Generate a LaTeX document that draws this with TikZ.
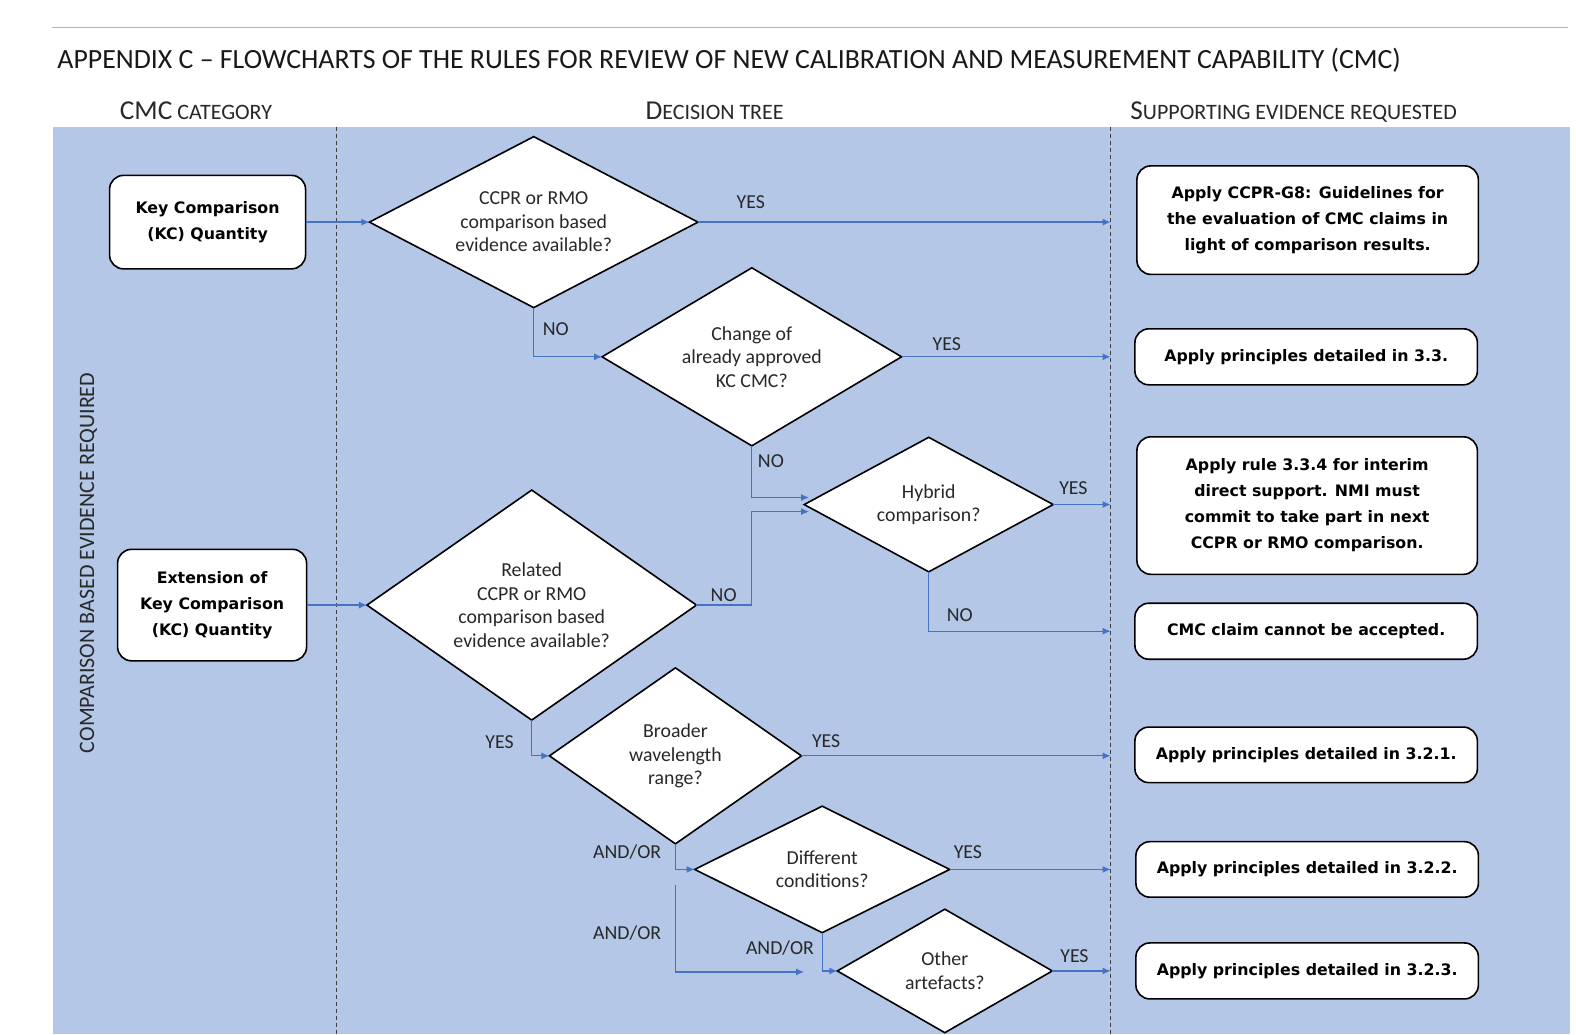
\documentclass[tikz,border=0pt]{standalone}
\usepackage{fontspec}
\setmainfont{Carlito}
\newfontfamily\boxfont{DejaVu Sans}
\usetikzlibrary{shapes.geometric,arrows.meta}
\definecolor{bgblue}{RGB}{180,199,231}
\definecolor{arrblue}{RGB}{68,114,196}
\definecolor{txt}{RGB}{40,40,40}
\newcommand{\fsc}[2]{{\fontsize{27.3}{31}\selectfont #1}{\fontsize{22}{26}\selectfont #2}}
\begin{document}
\begin{tikzpicture}[x=1.0051pt,y=-1.0051pt,
  box/.style={draw=black, line width=1.6pt, fill=white, rounded corners=14pt, align=center,
    font=\boxfont\bfseries\fontsize{15.8}{26}\selectfont, inner sep=0pt},
  dia/.style={draw=black, line width=1.6pt, fill=white, diamond, inner sep=0pt, outer sep=0pt,
    align=center, font=\fontsize{19.8}{23.5}\selectfont, text=txt},
  conn/.style={draw=arrblue, line width=1.3pt, -{Latex[length=8pt,width=7pt]}},
  lbl/.style={font=\fontsize{19.8}{23.5}\selectfont, text=txt, inner sep=0pt},
  lane/.style={draw=black!75, line width=1pt, dash pattern=on 4pt off 3pt},
  ]
\useasboundingbox (0,0) rectangle (1568,1028.75);
\fill[white] (0,0) rectangle (1568,1028.75);
% top rule and background
\draw[black!30, line width=1.2pt] (52,27) -- (1560,27);
\fill[bgblue] (53,126) rectangle (1562,1028.75);
% title and headers
\node[anchor=base west, inner sep=0pt, text=black!90, font=\fontsize{27.8}{32}\selectfont] (title) at (57,68)
  {APPENDIX C -- FLOWCHARTS OF THE RULES FOR REVIEW OF NEW CALIBRATION AND MEASUREMENT CAPABILITY (CMC)};
\node[anchor=base, inner sep=0pt, text=txt] (h1) at (195,119) {\fsc{CMC}{ CATEGORY}};
\node[anchor=base, inner sep=0pt, text=txt] (h2) at (711,119) {\fsc{D}{ECISION TREE}};
\node[anchor=base, inner sep=0pt, text=txt] (h3) at (1287,119) {\fsc{S}{UPPORTING EVIDENCE REQUESTED}};
% lane separators
\coordinate (l1t) at (335,126); \coordinate (l1b) at (335,1028.75);
\coordinate (l2t) at (1105,126); \coordinate (l2b) at (1105,1028.75);
\draw[lane] (l1t) -- (l1b);
\draw[lane] (l2t) -- (l2b);
\node[rotate=90, inner sep=0pt, text=txt, font=\fontsize{22}{25}\selectfont] (vt) at (88,560)
  {COMPARISON BASED EVIDENCE REQUIRED};
% left boxes
\node[box, minimum width=196pt, minimum height=93.5pt] (kc) at (206.5,221) {Key Comparison\\(KC) Quantity};
\node[box, minimum width=189pt, minimum height=111.5pt] (ext) at (211,602) {Extension of\\Key Comparison\\(KC) Quantity};
% diamonds
\node[dia, shape aspect=1.924, minimum width=328.5pt, minimum height=171pt] (d1) at (531,221) {CCPR or RMO\\comparison based\\evidence available?};
\node[dia, shape aspect=1.684, minimum width=299.5pt, minimum height=178pt] (d2) at (748,355) {Change of\\already approved\\KC CMC?};
\node[dia, shape aspect=1.851, minimum width=249pt, minimum height=134.5pt] (d3) at (924,502) {Hybrid\\comparison?};
\node[dia, shape aspect=1.432, minimum width=329.5pt, minimum height=230pt] (d4) at (529,602) {Related\\CCPR or RMO\\comparison based\\evidence available?};
\node[dia, shape aspect=1.434, minimum width=252pt, minimum height=176pt] (d5) at (672,752) {Broader\\wavelength\\range?};
\node[dia, shape aspect=2.016, minimum width=255pt, minimum height=126.5pt] (d6) at (818,865) {Different\\conditions?};
\node[dia, shape aspect=1.740, minimum width=215pt, minimum height=123.5pt] (d7) at (940,966) {Other\\artefacts?};
% right boxes
\node[box, minimum width=341.5pt, minimum height=108.5pt] (r1) at (1301,219) {Apply CCPR-G8: Guidelines for\\the evaluation of CMC claims in\\light of comparison results.};
\node[box, minimum width=342.5pt, minimum height=56pt] (r2) at (1299.5,355) {Apply principles detailed in 3.3.};
\node[box, minimum width=340.5pt, minimum height=137.5pt] (r3) at (1300.5,503) {Apply rule 3.3.4 for interim\\direct support. NMI must\\commit to take part in next\\CCPR or RMO comparison.};
\node[box, minimum width=342.5pt, minimum height=56pt] (r4) at (1299.5,628) {CMC claim cannot be accepted.};
\node[box, minimum width=342.5pt, minimum height=55.5pt] (r5) at (1299.5,751) {Apply principles detailed in 3.2.1.};
\node[box, minimum width=342.5pt, minimum height=55.5pt] (r6) at (1300.5,865) {Apply principles detailed in 3.2.2.};
\node[box, minimum width=342.5pt, minimum height=56pt] (r7) at (1300.5,966) {Apply principles detailed in 3.2.3.};
% connector end points on the lane line
\coordinate (t1) at (1105,221);
\coordinate (t2) at (1105,355);
\coordinate (t3) at (1105,502);
\coordinate (t4) at (1105,628);
\coordinate (t5) at (1105,752);
\coordinate (t6) at (1105,865);
\coordinate (t7) at (1105,966);
\coordinate (hin1) at (805,495);
\coordinate (hin2) at (805,509);
\coordinate (ao) at (672,880);
\coordinate (aoend) at (800,967);
% connectors
\draw[conn] (kc.east) -- (d1.west);
\draw[conn] (d1.east) -- (t1);
\draw[conn] (d1.south) |- (d2.west);
\draw[conn] (d2.east) -- (t2);
\draw[conn] (d2.south) |- (hin1);
\draw[conn] (d4.east) -- ++(55,0) |- (hin2);
\draw[conn] (d3.east) -- (t3);
\draw[conn] (d3.south) |- (t4);
\draw[conn] (ext.east) -- (d4.west);
\draw[conn] (d4.south) |- (d5.west);
\draw[conn] (d5.east) -- (t5);
\draw[conn] (d5.south) |- (d6.west);
\draw[conn] (ao) |- (aoend);
\draw[conn] (d6.south) |- (d7.west);
\draw[conn] (d6.east) -- (t6);
\draw[conn] (d7.east) -- (t7);
% labels
\node[lbl] (y1) at (747,201) {YES};
\node[lbl] (n1) at (553,327) {NO};
\node[lbl] (y2) at (942,342) {YES};
\node[lbl] (n2) at (767,459) {NO};
\node[lbl] (y3) at (1068,486) {YES};
\node[lbl] (n3) at (720,592) {NO};
\node[lbl] (n4) at (955,612) {NO};
\node[lbl] (y4) at (497,738) {YES};
\node[lbl] (y5) at (822,737) {YES};
\node[lbl] (a1) at (624,848) {AND/OR};
\node[lbl] (y6) at (963,848) {YES};
\node[lbl] (a2) at (624,928) {AND/OR};
\node[lbl] (a3) at (776,943) {AND/OR};
\node[lbl] (y7) at (1069,951) {YES};
\end{tikzpicture}
\end{document}
